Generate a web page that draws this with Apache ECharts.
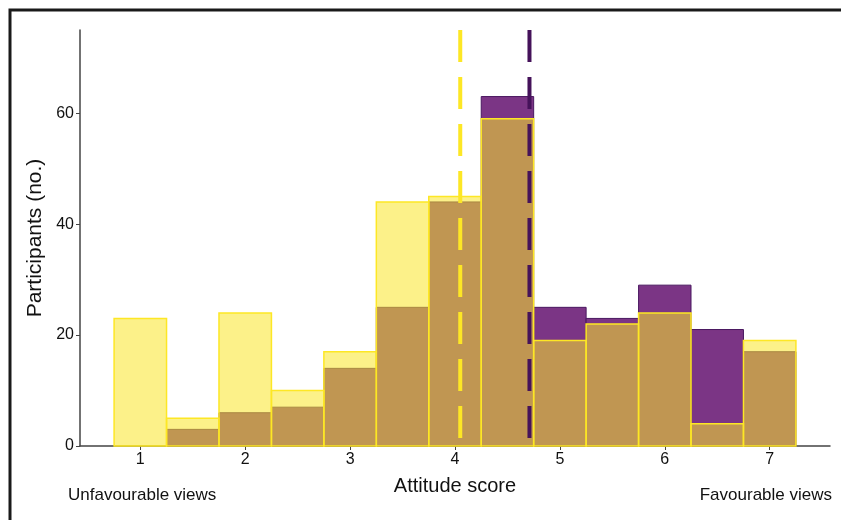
<!DOCTYPE html>
<html>
<head>
<meta charset="utf-8">
<script src="https://cdn.jsdelivr.net/npm/echarts@6/dist/echarts.min.js"></script>
<style>
html,body{margin:0;padding:0;background:#fff;}
#chart{width:841px;height:520px;}
</style>
</head>
<body>
<div id="chart"></div>
<script>
// Bin centres (width 0.5)
const binCenters = [1, 1.5, 2, 2.5, 3, 3.5, 4, 4.5, 5, 5.5, 6, 6.5, 7];
const yellowCounts = [23, 5, 24, 10, 17, 44, 45, 59, 19, 22, 24, 4, 19];
const purpleCounts = [0, 3, 6, 7, 14, 25, 44, 63, 25, 23, 29, 21, 17];
const yellowMean = 4.05;
const purpleMean = 4.71;
const xTicks = [1, 2, 3, 4, 5, 6, 7];
const yTicks = [0, 20, 40, 60];
const binWidth = 0.5;

const chart = echarts.init(document.getElementById('chart'), null, {renderer: 'canvas'});

function histItem(fill, stroke, lw) {
  return function (params, api) {
    const c = api.value(0), v = api.value(1);
    if (v <= 0) return null;
    const p1 = api.coord([c - binWidth / 2, v]);
    const p2 = api.coord([c + binWidth / 2, 0]);
    return {
      type: 'rect',
      shape: {x: p1[0], y: p1[1], width: p2[0] - p1[0], height: p2[1] - p1[1]},
      style: {fill: fill, stroke: stroke, lineWidth: lw}
    };
  };
}

const font = 'Liberation Sans, Arial, sans-serif';

chart.setOption({
  animation: false,
  backgroundColor: '#fff',
  grid: {left: 80, top: 30, right: 11, bottom: 74},
  xAxis: {
    type: 'value', min: 0.425, max: 7.575,
    axisLine: {show: true, lineStyle: {color: '#444', width: 1.5}},
    axisTick: {show: true, customValues: xTicks, length: 4, lineStyle: {color: '#444'}},
    axisLabel: {customValues: xTicks, color: '#111', fontSize: 16, fontFamily: font, margin: 6},
    splitLine: {show: false},
    name: 'Attitude score', nameLocation: 'middle', nameGap: 30,
    nameTextStyle: {color: '#111', fontSize: 20, fontFamily: font}
  },
  yAxis: {
    type: 'value', min: 0, max: 75,
    axisLine: {show: true, lineStyle: {color: '#444', width: 1.5}},
    axisTick: {show: true, customValues: yTicks, length: 4, lineStyle: {color: '#444'}},
    axisLabel: {customValues: yTicks, color: '#111', fontSize: 16, fontFamily: font, margin: 6},
    splitLine: {show: false},
    name: 'Participants (no.)', nameLocation: 'middle', nameGap: 33,
    nameTextStyle: {color: '#111', fontSize: 21, fontFamily: font}
  },
  graphic: [
    {type: 'rect', shape: {x: 10, y: 10, width: 900, height: 600},
     style: {fill: 'none', stroke: '#1a1a1a', lineWidth: 3}, silent: true, z: 100},
    {type: 'text', left: 68, top: 487,
     style: {text: 'Unfavourable views', fill: '#111', font: '17px ' + font}},
    {type: 'text', right: 9, top: 487,
     style: {text: 'Favourable views', fill: '#111', font: '17px ' + font}}
  ],
  series: [
    {
      type: 'custom', name: 'purple', z: 2,
      renderItem: histItem('#7b3585', '#4a1860', 1),
      data: binCenters.map((c, i) => [c, purpleCounts[i]])
    },
    {
      type: 'custom', name: 'yellow', z: 3,
      renderItem: histItem('rgba(250,230,40,0.55)', '#fde725', 1.5),
      data: binCenters.map((c, i) => [c, yellowCounts[i]])
    },
    {
      type: 'line', z: 5, symbol: 'none',
      data: [[yellowMean, 75], [yellowMean, 0]],
      lineStyle: {color: '#fde725', width: 4, type: [32, 15]}
    },
    {
      type: 'line', z: 5, symbol: 'none',
      data: [[purpleMean, 75], [purpleMean, 0]],
      lineStyle: {color: '#45125a', width: 4, type: [32, 15]}
    }
  ]
});
</script>
</body>
</html>
